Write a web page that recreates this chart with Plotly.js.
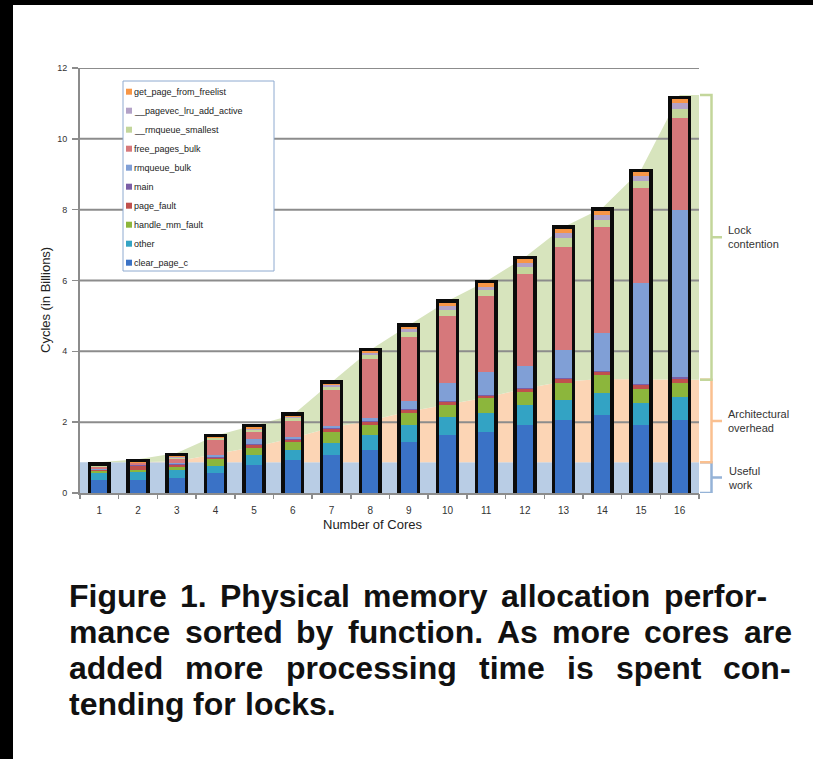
<!DOCTYPE html>
<html>
<head>
<meta charset="utf-8">
<script src="https://cdn.plot.ly/plotly-3.0.1.min.js"></script>
<style>
  html, body { margin: 0; padding: 0; background: #000; width: 813px; height: 759px; overflow: hidden; }
  #chart { position: absolute; left: 13px; top: 5px; width: 800px; height: 754px; background: #fff; }
</style>
</head>
<body>
<div id="chart"></div>
<script>
// ---- data -------------------------------------------------------------
const cores = [1, 2, 3, 4, 5, 6, 7, 8, 9, 10, 11, 12, 13, 14, 15, 16];

// cycles (billions) per kernel function, listed bottom-to-top of each stack
const clearPageC      = [0.37, 0.37, 0.42, 0.56, 0.79, 0.93, 1.07, 1.21, 1.45, 1.64, 1.73, 1.92, 2.06, 2.20, 1.92, 2.06];
const other           = [0.20, 0.22, 0.22, 0.20, 0.28, 0.28, 0.33, 0.43, 0.47, 0.51, 0.52, 0.56, 0.57, 0.61, 0.61, 0.66];
const handleMmFault   = [0.04, 0.05, 0.10, 0.20, 0.19, 0.24, 0.33, 0.28, 0.33, 0.33, 0.42, 0.38, 0.47, 0.52, 0.41, 0.39];
const pageFault       = [0.04, 0.12, 0.06, 0.04, 0.10, 0.06, 0.08, 0.08, 0.09, 0.10, 0.08, 0.08, 0.12, 0.09, 0.10, 0.12];
const mainFn          = [0.01, 0.02, 0.02, 0.01, 0.03, 0.02, 0.02, 0.02, 0.02, 0.02, 0.03, 0.02, 0.03, 0.02, 0.04, 0.05];
const rmqueueBulk     = [0.02, 0.02, 0.03, 0.06, 0.14, 0.05, 0.07, 0.10, 0.24, 0.50, 0.64, 0.64, 0.79, 1.09, 2.84, 4.72];
const freePagesBulk   = [0.06, 0.04, 0.12, 0.43, 0.20, 0.45, 1.00, 1.65, 1.80, 1.90, 2.13, 2.58, 2.92, 2.97, 2.70, 2.60];
const rmqueueSmallest = [0.01, 0.01, 0.03, 0.04, 0.06, 0.08, 0.10, 0.12, 0.14, 0.17, 0.17, 0.20, 0.25, 0.20, 0.20, 0.25];
const pagevecLruAdd   = [0.01, 0.01, 0.02, 0.02, 0.03, 0.04, 0.05, 0.06, 0.08, 0.10, 0.10, 0.12, 0.13, 0.15, 0.12, 0.15];
const getPageFreelist = [0.01, 0.01, 0.02, 0.02, 0.03, 0.03, 0.04, 0.05, 0.07, 0.10, 0.10, 0.10, 0.12, 0.12, 0.12, 0.12];

const seriesNames = ['clear_page_c', 'other', 'handle_mm_fault', 'page_fault', 'main',
                     'rmqueue_bulk', 'free_pages_bulk', '__rmqueue_smallest',
                     '__pagevec_lru_add_active', 'get_page_from_freelist'];
const seriesValues = [clearPageC, other, handleMmFault, pageFault, mainFn,
                      rmqueueBulk, freePagesBulk, rmqueueSmallest, pagevecLruAdd, getPageFreelist];
const seriesColors = ['#3a72c6', '#33a3c4', '#8cb63c', '#c0504d', '#7b5ea7',
                      '#809fd6', '#d6787b', '#c3d69b', '#b3a2c7', '#f79646'];

// background bands: upper edge of each cost class per core count
const usefulWork     = [0.87, 0.87, 0.87, 0.87, 0.87, 0.87, 0.87, 0.87, 0.87, 0.87, 0.87, 0.87, 0.87, 0.87, 0.87, 0.87];
const archOverhead   = [0.87, 0.87, 0.90, 1.10, 1.30, 1.55, 1.85, 2.05, 2.30, 2.50, 2.70, 2.95, 3.15, 3.22, 3.22, 3.20];
const lockContention = [0.87, 0.95, 1.13, 1.62, 1.90, 2.20, 3.13, 4.04, 4.74, 5.42, 5.98, 6.66, 7.51, 8.05, 9.12, 11.24];
const bandNames  = ['Useful<br>work', 'Architectural<br>overhead', 'Lock<br>contention'];
const bandColors = ['#b9cde5', '#fcd5b5', '#d7e4bd'];
const bracketColors = ['#95b3d7', '#fac090', '#c3d69b'];

const yTicks = [0, 2, 4, 6, 8, 10, 12];
const xTickText = cores.map(String);

const captionLines = [
  'Figure 1. Physical memory allocation perfor-',
  'mance sorted by function. As more cores are',
  'added more processing time is spent con-',
  'tending for locks.'
];

// ---- geometry helpers (page pixels -> paper fractions) ----------------
const PL = 80, PR = 699, PT = 68, PB = 493;
const fx = p => (p - PL) / (PR - PL);
const fy = p => (PB - p) / (PB - PT);
const xRange = [0.5, 16.5];
const ext = arr => [arr[0], ...arr, arr[arr.length - 1]];
const xExt = [xRange[0], ...cores, xRange[1]];

const FONT = 'Liberation Sans, Arial, sans-serif';
const GRID = '#8c8c8c';

// ---- traces -----------------------------------------------------------
const traces = [];
[usefulWork, archOverhead, lockContention].forEach((band, i) => {
  traces.push({
    type: 'scatter', mode: 'lines', x: xExt, y: ext(band),
    fill: i === 0 ? 'tozeroy' : 'tonexty', fillcolor: bandColors[i],
    line: { width: 0 }, hoverinfo: 'skip', showlegend: false,
    xaxis: 'x', yaxis: 'y'
  });
});

// horizontal grid drawn over the bands but under the bars
const gx = [], gy = [];
yTicks.filter(t => t > 0).forEach(t => { gx.push(xRange[0], xRange[1], null); gy.push(t, t, null); });
traces.push({ type: 'scatter', mode: 'lines', x: gx, y: gy, line: { color: GRID, width: 2 },
              hoverinfo: 'skip', showlegend: false, xaxis: 'x', yaxis: 'y' });

// dark frame behind each stack
const totals = cores.map((_, k) => seriesValues.reduce((s, v) => s + v[k], 0));
traces.push({
  type: 'bar', x: cores, y: totals, width: 0.42,
  marker: { color: '#0b0b0b', line: { color: '#0b0b0b', width: 7 } },
  hoverinfo: 'skip', showlegend: false, xaxis: 'x2', yaxis: 'y'
});

seriesValues.forEach((vals, i) => {
  traces.push({
    type: 'bar', name: seriesNames[i], x: cores, y: vals, width: 0.42,
    marker: { color: seriesColors[i], line: { width: 0 } },
    showlegend: false, xaxis: 'x3', yaxis: 'y'
  });
});

// ---- shapes & annotations ---------------------------------------------
const shapes = [];
const annotations = [];

// legend box
const LEG = { left: 123, right: 274, top: 81, bottom: 271, row0: 91.7, step: 19 };
shapes.push({ type: 'rect', xref: 'paper', yref: 'paper', layer: 'above',
  x0: fx(LEG.left), x1: fx(LEG.right), y0: fy(LEG.bottom), y1: fy(LEG.top),
  fillcolor: '#ffffff', line: { color: '#8eaad0', width: 1 } });
for (let r = 0; r < seriesNames.length; r++) {
  const i = seriesNames.length - 1 - r;
  const cy = LEG.row0 + r * LEG.step;
  shapes.push({ type: 'rect', xref: 'paper', yref: 'paper', layer: 'above',
    x0: fx(126), x1: fx(132), y0: fy(cy + 3), y1: fy(cy - 3),
    fillcolor: seriesColors[i], line: { width: 0 } });
  annotations.push({ xref: 'paper', yref: 'paper', x: fx(132), y: fy(cy),
    xanchor: 'left', yanchor: 'middle', showarrow: false, text: seriesNames[i],
    font: { family: FONT, size: 9, color: '#222' } });
}

// brackets on the right, spanning each band at 16 cores
const last = cores.length - 1;
const bandEdges = [[0, usefulWork[last]], [usefulWork[last], archOverhead[last]], [archOverhead[last], lockContention[last]]];
bandEdges.forEach(([lo, hi], i) => {
  const xl = fx(700), xv = fx(711.5), xn = fx(722);
  const mid = (lo + hi) / 2;
  shapes.push({ type: 'path', xref: 'paper', yref: 'y', layer: 'above',
    path: `M ${xl},${hi} L ${xv},${hi} L ${xv},${lo} L ${xl},${lo} M ${xv},${mid} L ${xn},${mid}`,
    line: { color: bracketColors[i], width: 2.5 } });
  annotations.push({ xref: 'paper', yref: 'y', x: fx(726), y: mid,
    xanchor: 'left', yanchor: 'middle', align: 'left', showarrow: false,
    text: bandNames[i], font: { family: FONT, size: 11, color: '#333' } });
});

// axis titles
annotations.push({ xref: 'paper', yref: 'paper', x: fx(372), y: fy(524), showarrow: false,
  xanchor: 'center', yanchor: 'middle', text: 'Number of Cores',
  font: { family: FONT, size: 13, color: '#222' } });
annotations.push({ xref: 'paper', yref: 'paper', x: fx(45), y: fy(300), showarrow: false,
  xanchor: 'center', yanchor: 'middle', textangle: -90, text: 'Cycles (in Billions)',
  font: { family: FONT, size: 13, color: '#222' } });

// caption, set word by word so the text block is justified
const CAP = { size: 32, left: 68, rights: [766, 791, 790, null], mids: [596, 632, 668, 704] };
const ctx = document.createElement('canvas').getContext('2d');
ctx.font = `bold ${CAP.size}px 'Liberation Sans'`;
const spaceW = ctx.measureText(' ').width;
captionLines.forEach((line, li) => {
  const words = line.split(' ');
  const widths = words.map(w => ctx.measureText(w).width);
  const sum = widths.reduce((a, b) => a + b, 0);
  const right = CAP.rights[li];
  const gap = right === null ? spaceW : Math.max(spaceW * 0.8, (right - CAP.left - sum) / (words.length - 1));
  let x = CAP.left;
  words.forEach((w, wi) => {
    annotations.push({ xref: 'paper', yref: 'paper', x: fx(x - 1), y: fy(CAP.mids[li]),
      xanchor: 'left', yanchor: 'middle', showarrow: false, text: w,
      font: { family: FONT, size: CAP.size, color: '#111', weight: 'bold' } });
    x += widths[wi] + gap;
  });
});

// ---- layout -----------------------------------------------------------
const layout = {
  width: 800, height: 754,
  margin: { l: PL - 13, r: 813 - PR, t: PT - 5, b: 759 - PB, pad: 0 },
  paper_bgcolor: '#ffffff', plot_bgcolor: 'rgba(0,0,0,0)',
  barmode: 'stack', showlegend: false,
  font: { family: FONT, color: '#333' },
  xaxis: {
    type: 'linear', range: xRange, tickvals: cores, ticktext: xTickText,
    ticks: '', showgrid: false, zeroline: false,
    showline: true, linecolor: GRID, linewidth: 2,
    tickfont: { family: FONT, size: 10, color: '#333' }, ticklabelstandoff: 7
  },
  xaxis2: {
    overlaying: 'x', anchor: 'y', type: 'linear', range: xRange,
    tickvals: cores.map(c => c - 0.5).concat([xRange[1]]),
    ticks: 'outside', ticklen: 5, tickwidth: 1.5, tickcolor: GRID,
    showticklabels: false, showgrid: false, zeroline: false, showline: false
  },
  xaxis3: { overlaying: 'x', anchor: 'y', type: 'linear', range: xRange, visible: false },
  yaxis: {
    range: [0, 12], tickvals: yTicks, ticks: 'outside', ticklen: 6, tickwidth: 1.5, tickcolor: GRID,
    showgrid: false, zeroline: false, showline: true, linecolor: GRID, linewidth: 2,
    tickfont: { family: FONT, size: 9, color: '#333' }, ticklabelstandoff: 3
  },
  shapes: shapes,
  annotations: annotations
};

Plotly.newPlot('chart', traces, layout, { staticPlot: true, displayModeBar: false });
</script>
</body>
</html>
